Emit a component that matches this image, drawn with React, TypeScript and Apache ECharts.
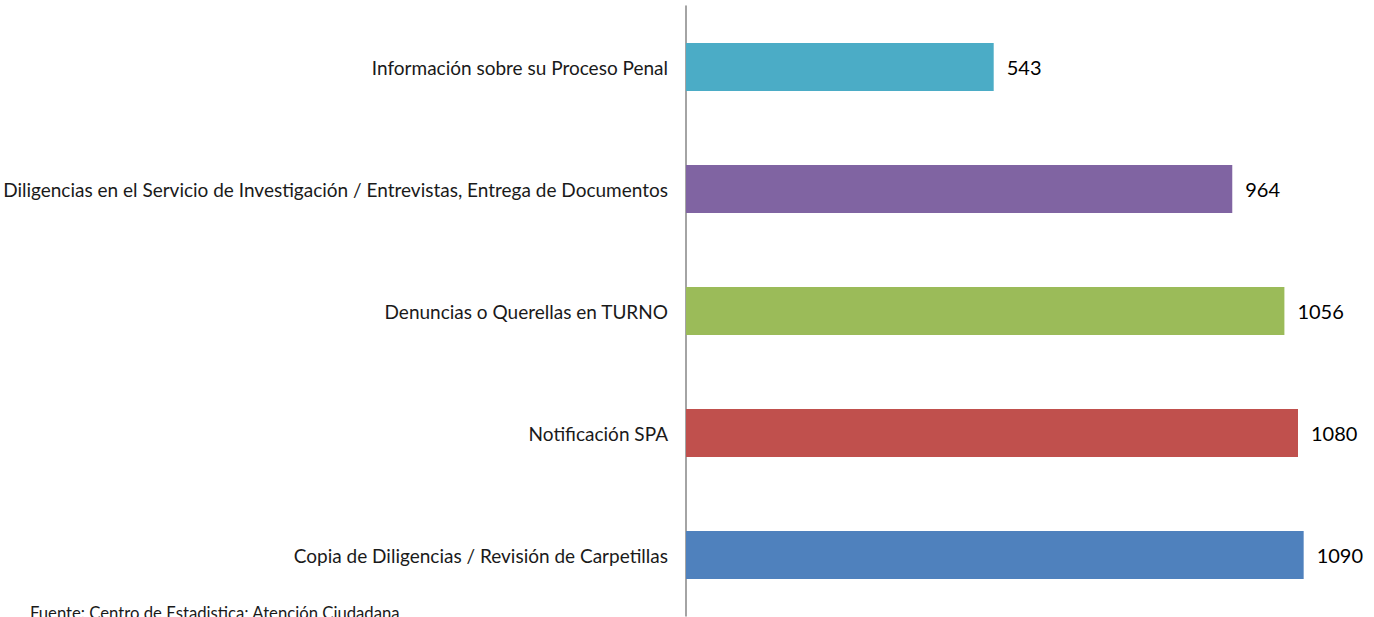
import React, { useEffect, useRef } from "react";
import * as echarts from "echarts";

const categories = [
  "Copia de Diligencias / Revisión de Carpetillas",
  "Notificación SPA",
  "Denuncias o Querellas en TURNO",
  "Diligencias en el Servicio de Investigación / Entrevistas, Entrega de Documentos",
  "Información sobre su Proceso Penal",
];
const values = [1090, 1080, 1056, 964, 543];
const colors = ["#4F81BD", "#C0504D", "#9BBB59", "#8064A2", "#4BACC6"];
const footer = "Fuente: Centro de Estadistica; Atención Ciudadana";

export default function App() {
  const ref = useRef<HTMLDivElement>(null);
  useEffect(() => {
    if (!ref.current) return;
    const chart = echarts.init(ref.current, null, { renderer: "svg" });
    chart.setOption({
      animation: false,
      grid: { left: 686, right: 8, top: 6, bottom: 1, containLabel: false },
      xAxis: {
        type: "value",
        min: 0,
        max: 1200,
        show: false,
      },
      yAxis: {
        type: "category",
        data: categories,
        axisLine: { show: true, lineStyle: { color: "#868686", width: 1.5 } },
        axisTick: { show: false },
        axisLabel: {
          fontFamily: "Lato",
          fontSize: 19,
          color: "#1a1a1a",
          margin: 18,
        },
      },
      series: [
        {
          type: "bar",
          barWidth: 48,
          data: values.map((v, i) => ({ value: v, itemStyle: { color: colors[i] } })),
          label: {
            show: true,
            position: "right",
            distance: 13,
            fontFamily: "Lato",
            fontSize: 20,
            color: "#000",
          },
        },
      ],
      graphic: [
        {
          type: "text",
          left: 30,
          top: 604,
          style: {
            text: footer,
            fontFamily: "Lato",
            fontSize: 16.7,
            fill: "#1a1a1a",
          },
        },
      ],
    });
    return () => chart.dispose();
  }, []);
  return <div ref={ref} style={{ width: 1374, height: 617, position: "absolute", left: 0, top: 0 }} />;
}
